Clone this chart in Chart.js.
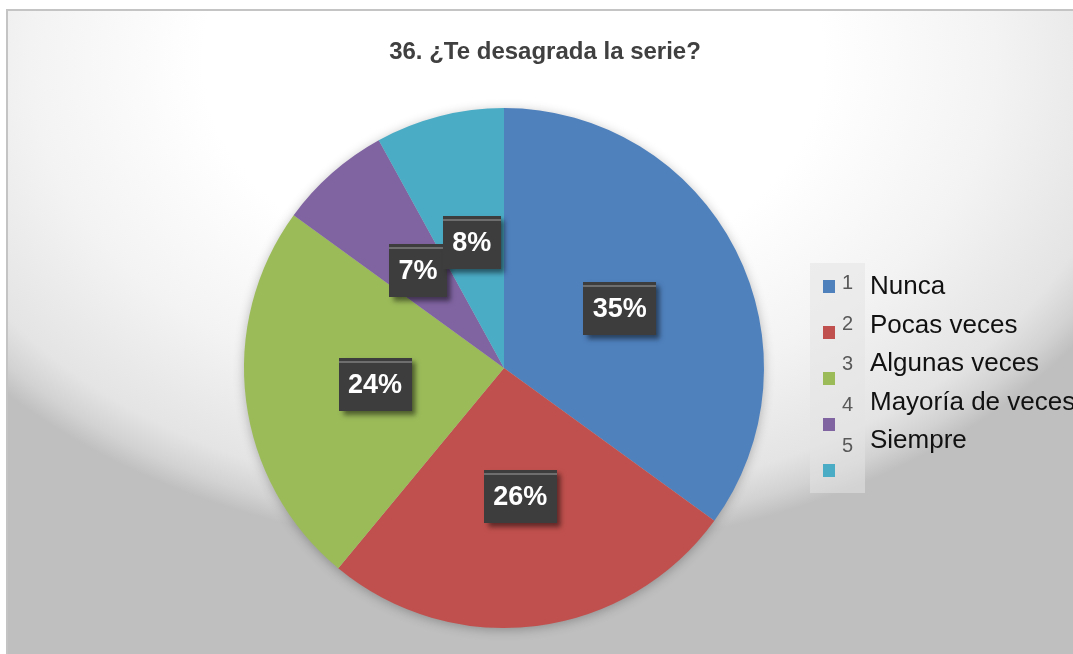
<!DOCTYPE html>
<html>
<head>
<meta charset="utf-8">
<script src="https://cdn.jsdelivr.net/npm/chart.js@4"></script>
<style>
  html, body { margin: 0; padding: 0; background: #fff; overflow: hidden; }
  #frame {
    position: absolute; left: 6px; top: 9px; width: 1080px; height: 660px;
    border-top: 2px solid #c4c4c4; border-left: 2px solid #c4c4c4;
    background: radial-gradient(ellipse 690px 490px at 505px 50px,
      #ffffff 0%, #ffffff 45%, #f3f3f3 70%, #e4e4e4 90%, #d2d2d2 96%, #bfbfbf 100%);
    background-color: #bfbfbf;
  }
  #wrap { position: absolute; left: 0; top: 0; width: 1073px; height: 654px; }
  #legend {
    position: absolute; left: 810px; top: 263px; width: 55px; height: 230px;
    background: rgba(228, 228, 228, 0.55);
  }
  .sq { position: absolute; left: 13px; width: 12px; height: 13px; }
  .num { position: absolute; left: 32px; font: 20px "Liberation Sans", Arial, sans-serif; color: #595959; line-height: 20px; }
  .txt { position: absolute; left: 60px; font: 26px "Liberation Sans", Arial, sans-serif; color: #111; white-space: nowrap; line-height: 28px; }
</style>
</head>
<body>
<div id="frame"></div>
<div id="wrap"><canvas id="pie"></canvas></div>
<div id="legend"></div>
<script>
// ===============================
// DATA
// ===============================
const titleText = "36. ¿Te desagrada la serie?";
const categories = ["Nunca", "Pocas veces", "Algunas veces", "Mayoría de veces", "Siempre"];
const codes = ["1", "2", "3", "4", "5"];
const percents = [35, 26, 24, 7, 8];
const colors = ["#4F81BD", "#C0504D", "#9BBB59", "#8064A2", "#4BACC6"];

// ===============================
// LEGEND (html, built from the arrays)
// ===============================
function buildLegend() {
  const box = document.getElementById("legend");
  categories.forEach((name, i) => {
    const sq = document.createElement("div");
    sq.className = "sq";
    sq.style.top = (17 + i * 46) + "px";
    sq.style.background = colors[i];
    box.appendChild(sq);

    const num = document.createElement("div");
    num.className = "num";
    num.style.top = (9 + i * 40.7) + "px";
    num.textContent = codes[i];
    box.appendChild(num);

    const txt = document.createElement("div");
    txt.className = "txt";
    txt.style.top = (8 + i * 38.5) + "px";
    txt.textContent = name;
    box.appendChild(txt);
  });
}

// ===============================
// PLUGINS
// ===============================
const titlePlugin = {
  id: "customTitle",
  afterDraw(chart) {
    const ctx = chart.ctx;
    ctx.save();
    ctx.font = "bold 24px 'Liberation Sans', Arial, sans-serif";
    ctx.fillStyle = "#404040";
    ctx.textAlign = "center";
    ctx.textBaseline = "middle";
    ctx.fillText(titleText, 545, 52);
    ctx.restore();
  }
};

const pieShadow = {
  id: "pieShadow",
  beforeDatasetsDraw(chart) {
    const arc = chart.getDatasetMeta(0).data[0];
    if (!arc) return;
    const ctx = chart.ctx;
    ctx.save();
    ctx.shadowColor = "rgba(0,0,0,0.3)";
    ctx.shadowBlur = 12;
    ctx.shadowOffsetY = 2;
    ctx.fillStyle = "#bfbfbf";
    ctx.beginPath();
    ctx.arc(arc.x, arc.y, arc.outerRadius - 1, 0, Math.PI * 2);
    ctx.fill();
    ctx.restore();
  }
};

const labelBoxes = {
  id: "labelBoxes",
  afterDatasetsDraw(chart) {
    const ctx = chart.ctx;
    const meta = chart.getDatasetMeta(0);
    ctx.save();
    ctx.font = "bold 27px 'Liberation Sans', Arial, sans-serif";
    ctx.textAlign = "center";
    ctx.textBaseline = "middle";
    meta.data.forEach((arc, i) => {
      const p = arc.tooltipPosition();
      const text = percents[i] + "%";
      const w = ctx.measureText(text).width + 19;
      const h = 53;
      const x = Math.round(p.x - w / 2);
      const y = Math.round(p.y - h / 2);

      ctx.save();
      ctx.shadowColor = "rgba(0,0,0,0.5)";
      ctx.shadowBlur = 5;
      ctx.shadowOffsetX = 4;
      ctx.shadowOffsetY = 4;
      ctx.fillStyle = "#3d3d3d";
      ctx.fillRect(x, y, w, h);
      ctx.restore();

      ctx.fillStyle = "#6e6e6e";
      ctx.fillRect(x, y + 3, w, 2);

      ctx.fillStyle = "#ffffff";
      ctx.fillText(text, p.x, p.y + 1);
    });
    ctx.restore();
  }
};

// ===============================
// CHART
// ===============================
function createChart() {
  new Chart(document.getElementById("pie"), {
    type: "pie",
    data: {
      labels: categories,
      datasets: [{
        data: percents,
        backgroundColor: colors,
        borderWidth: 0,
        offset: 0,
        hoverOffset: 0
      }]
    },
    options: {
      responsive: true,
      maintainAspectRatio: false,
      animation: false,
      events: [],
      layout: { padding: { top: 108, bottom: 26, left: 0, right: 65 } },
      plugins: {
        legend: { display: false },
        title: { display: false },
        tooltip: { enabled: false }
      }
    },
    plugins: [pieShadow, labelBoxes, titlePlugin]
  });
}

document.addEventListener("DOMContentLoaded", () => {
  buildLegend();
  createChart();
});
</script>
</body>
</html>
